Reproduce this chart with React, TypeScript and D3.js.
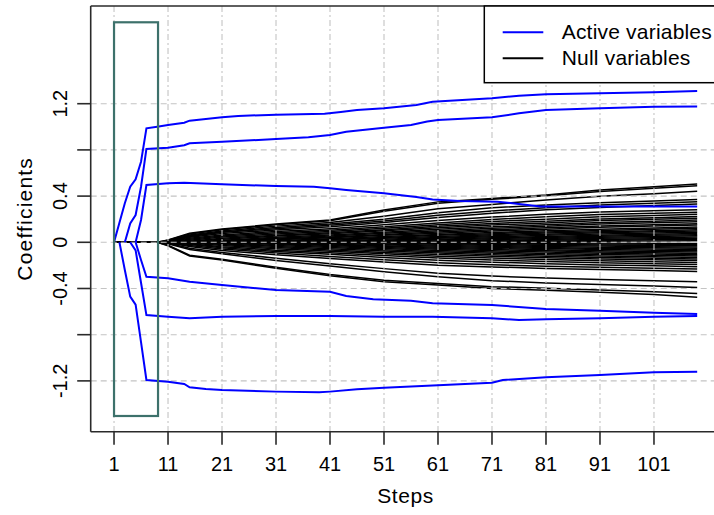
import React from "react";
import * as d3 from "d3";

const W = 714;
const H = 515;

// x ticks (steps) and y ticks (coefficients)
const xTicks = [1, 11, 21, 31, 41, 51, 61, 71, 81, 91, 101];
const yTicks = [-1.2, -0.8, -0.4, 0, 0.4, 0.8, 1.2];
const yTickLabels = ["-1.2", "", "-0.4", "0", "0.4", "", "1.2"];

// Active variables: [step, coefficient]
const activeA: [number, number][] = [[1,0],[2,0.17],[3,0.338],[4,0.481],[5,0.545],[6,0.698],[7,0.987],[9,1.001],[11,1.016],[14,1.035],[15,1.053],[18,1.068],[21,1.082],[24,1.094],[31,1.105],[40,1.113],[43,1.128],[46,1.145],[51,1.16],[57,1.189],[60,1.217],[71,1.247],[76,1.269],[81,1.281],[91,1.29],[101,1.299],[109,1.31]];
const activeB: [number, number][] = [[3,0],[4,0.164],[5,0.236],[6,0.481],[7,0.808],[11,0.819],[14,0.84],[15,0.857],[21,0.871],[31,0.894],[37,0.909],[41,0.929],[44,0.958],[51,0.992],[56,1.016],[59,1.045],[61,1.059],[71,1.082],[76,1.117],[81,1.145],[91,1.16],[101,1.174],[109,1.176]];
const activeC: [number, number][] = [[5,0],[6,0.193],[7,0.496],[11,0.511],[14,0.516],[21,0.502],[31,0.487],[38,0.481],[41,0.468],[44,0.453],[51,0.424],[57,0.392],[60,0.37],[65,0.358],[72,0.352],[80,0.31],[109,0.31]];
const activeD: [number, number][] = [[5,0],[6,-0.153],[7,-0.298],[11,-0.312],[15,-0.341],[21,-0.37],[31,-0.413],[41,-0.428],[44,-0.465],[49,-0.494],[56,-0.506],[60,-0.528],[71,-0.543],[81,-0.578],[91,-0.592],[101,-0.61],[109,-0.621]];
const activeE: [number, number][] = [[4,0],[5,-0.07],[6,-0.35],[7,-0.63],[11,-0.644],[15,-0.658],[21,-0.644],[31,-0.638],[41,-0.638],[51,-0.644],[60,-0.644],[71,-0.658],[76,-0.673],[81,-0.667],[91,-0.658],[101,-0.644],[109,-0.638]];
const activeF: [number, number][] = [[2,0],[3,-0.24],[4,-0.47],[5,-0.54],[6,-0.865],[7,-1.192],[11,-1.207],[14,-1.227],[15,-1.255],[18,-1.27],[21,-1.279],[31,-1.293],[39,-1.299],[41,-1.293],[46,-1.273],[51,-1.259],[58,-1.245],[71,-1.216],[73,-1.192],[81,-1.169],[91,-1.149],[101,-1.126],[109,-1.12]];
const activeSeries = [activeA, activeB, activeC, activeD, activeE, activeF];

// Null variables: coefficient at each of these steps
const nullSteps = [1, 9, 11, 15, 21, 31, 41, 51, 61, 71, 81, 91, 101, 109];
const nullPositive: number[][] = [
  [0, 0, 0.02, 0.078, 0.115, 0.158, 0.193, 0.28, 0.35, 0.38, 0.41, 0.453, 0.481, 0.505],
  [0, 0, 0.017, 0.072, 0.108, 0.152, 0.186, 0.268, 0.338, 0.372, 0.402, 0.44, 0.468, 0.49],
  [0, 0, 0.012, 0.063, 0.098, 0.14, 0.172, 0.226, 0.29, 0.328, 0.366, 0.398, 0.421, 0.442],
  [0, 0, 0.01, 0.056, 0.09, 0.128, 0.158, 0.2, 0.255, 0.3, 0.322, 0.342, 0.357, 0.371],
  [0, 0, 0.008, 0.05, 0.086, 0.118, 0.147, 0.185, 0.234, 0.272, 0.3, 0.322, 0.338, 0.352],
  [0, 0, 0.006, 0.044, 0.076, 0.106, 0.134, 0.172, 0.214, 0.252, 0.281, 0.302, 0.318, 0.331],
  [0, 0, 0.004, 0.036, 0.064, 0.094, 0.118, 0.152, 0.188, 0.218, 0.242, 0.262, 0.273, 0.282],
  [0, 0, 0.002, 0.026, 0.055, 0.083, 0.104, 0.134, 0.168, 0.198, 0.221, 0.24, 0.252, 0.261],
  [0, 0, 0, 0.018, 0.045, 0.072, 0.093, 0.121, 0.152, 0.18, 0.2, 0.221, 0.233, 0.243],
  [0, 0, 0, 0.01, 0.034, 0.062, 0.082, 0.108, 0.138, 0.163, 0.182, 0.201, 0.213, 0.224],
  [0, 0, 0, 0.006, 0.026, 0.054, 0.074, 0.099, 0.126, 0.149, 0.168, 0.188, 0.2, 0.209],
  [0, 0, 0, 0, 0.018, 0.043, 0.063, 0.088, 0.112, 0.134, 0.152, 0.171, 0.182, 0.192],
  [0, 0, 0, 0, 0.012, 0.036, 0.055, 0.079, 0.101, 0.121, 0.139, 0.158, 0.169, 0.178],
  [0, 0, 0, 0, 0.006, 0.028, 0.046, 0.068, 0.09, 0.108, 0.126, 0.142, 0.152, 0.161],
  [0, 0, 0, 0, 0, 0.021, 0.04, 0.06, 0.079, 0.097, 0.114, 0.13, 0.141, 0.149],
  [0, 0, 0, 0, 0, 0.014, 0.031, 0.05, 0.068, 0.085, 0.1, 0.114, 0.124, 0.133],
  [0, 0, 0, 0, 0, 0.008, 0.024, 0.042, 0.06, 0.075, 0.09, 0.103, 0.112, 0.121],
  [0, 0, 0, 0, 0, 0, 0.017, 0.034, 0.05, 0.065, 0.08, 0.092, 0.101, 0.109],
  [0, 0, 0, 0, 0, 0, 0.01, 0.026, 0.042, 0.056, 0.07, 0.082, 0.091, 0.098],
  [0, 0, 0, 0, 0, 0, 0.004, 0.018, 0.034, 0.047, 0.06, 0.072, 0.08, 0.088],
  [0, 0, 0, 0, 0, 0, 0, 0.012, 0.026, 0.039, 0.051, 0.062, 0.07, 0.077],
  [0, 0, 0, 0, 0, 0, 0, 0.006, 0.019, 0.031, 0.042, 0.052, 0.06, 0.066],
  [0, 0, 0, 0, 0, 0, 0, 0, 0.012, 0.023, 0.033, 0.043, 0.05, 0.056],
  [0, 0, 0, 0, 0, 0, 0, 0, 0.006, 0.016, 0.025, 0.034, 0.04, 0.045],
  [0, 0, 0, 0, 0, 0, 0, 0, 0, 0.009, 0.017, 0.025, 0.031, 0.035],
  [0, 0, 0, 0, 0, 0, 0, 0, 0, 0.004, 0.01, 0.016, 0.021, 0.024],
  [0, 0, 0, 0, 0, 0, 0, 0, 0, 0, 0.004, 0.008, 0.012, 0.014],
];
const nullNegative: number[][] = [
  [0, 0, -0.03, -0.119, -0.153, -0.225, -0.29, -0.341, -0.37, -0.4, -0.415, -0.432, -0.452, -0.476],
  [0, 0, -0.026, -0.112, -0.146, -0.216, -0.279, -0.328, -0.357, -0.384, -0.398, -0.412, -0.428, -0.443],
  [0, 0, -0.012, -0.062, -0.1, -0.158, -0.206, -0.255, -0.298, -0.332, -0.352, -0.365, -0.378, -0.392],
  [0, 0, -0.009, -0.052, -0.088, -0.138, -0.186, -0.228, -0.268, -0.292, -0.31, -0.322, -0.332, -0.342],
  [0, 0, -0.005, -0.036, -0.07, -0.108, -0.14, -0.17, -0.198, -0.213, -0.226, -0.236, -0.245, -0.252],
  [0, 0, -0.003, -0.028, -0.058, -0.092, -0.122, -0.152, -0.178, -0.194, -0.207, -0.217, -0.225, -0.232],
  [0, 0, 0, -0.02, -0.048, -0.08, -0.104, -0.132, -0.155, -0.172, -0.185, -0.196, -0.204, -0.211],
  [0, 0, 0, -0.012, -0.038, -0.068, -0.09, -0.115, -0.136, -0.153, -0.166, -0.177, -0.185, -0.192],
  [0, 0, 0, -0.006, -0.028, -0.056, -0.077, -0.1, -0.12, -0.136, -0.149, -0.16, -0.168, -0.174],
  [0, 0, 0, 0, -0.02, -0.046, -0.066, -0.088, -0.106, -0.121, -0.134, -0.145, -0.152, -0.158],
  [0, 0, 0, 0, -0.012, -0.036, -0.055, -0.075, -0.093, -0.108, -0.12, -0.131, -0.138, -0.144],
  [0, 0, 0, 0, -0.006, -0.027, -0.045, -0.064, -0.081, -0.095, -0.107, -0.118, -0.125, -0.131],
  [0, 0, 0, 0, 0, -0.019, -0.036, -0.054, -0.07, -0.084, -0.096, -0.106, -0.113, -0.119],
  [0, 0, 0, 0, 0, -0.012, -0.028, -0.045, -0.06, -0.073, -0.085, -0.095, -0.102, -0.107],
  [0, 0, 0, 0, 0, -0.006, -0.021, -0.037, -0.051, -0.063, -0.074, -0.084, -0.091, -0.096],
  [0, 0, 0, 0, 0, 0, -0.014, -0.029, -0.042, -0.054, -0.064, -0.073, -0.08, -0.085],
  [0, 0, 0, 0, 0, 0, -0.008, -0.021, -0.034, -0.045, -0.054, -0.063, -0.069, -0.074],
  [0, 0, 0, 0, 0, 0, 0, -0.014, -0.026, -0.036, -0.045, -0.053, -0.059, -0.063],
  [0, 0, 0, 0, 0, 0, 0, -0.007, -0.018, -0.028, -0.036, -0.043, -0.048, -0.052],
  [0, 0, 0, 0, 0, 0, 0, 0, -0.011, -0.02, -0.027, -0.033, -0.038, -0.041],
  [0, 0, 0, 0, 0, 0, 0, 0, -0.005, -0.012, -0.018, -0.023, -0.027, -0.03],
  [0, 0, 0, 0, 0, 0, 0, 0, 0, -0.006, -0.01, -0.014, -0.017, -0.019],
  [0, 0, 0, 0, 0, 0, 0, 0, 0, 0, -0.004, -0.007, -0.009, -0.01],
];

// Highlight box (steps and coefficient range)
const boxSteps = [1, 9.15];
const boxCoefs = [-1.504, 1.905];

const legendItems = [
  { label: "Active variables", color: "#0000FF" },
  { label: "Null variables", color: "#000000" },
];

export default function App() {
  const x = d3.scaleLinear().domain([-3.32, 113.32]).range([90.7, 720.5]);
  const y = d3.scaleLinear().domain([-1.64, 2.046]).range([431.7, 6]);
  const [x0, x1] = x.range();
  const [yb, yt] = y.range();

  const line = d3
    .line<[number, number]>()
    .x((d) => x(d[0]))
    .y((d) => y(d[1]));

  const nullRows = [...nullPositive, ...nullNegative];
  const nullPaths = nullRows.map((row) =>
    line(row.map((v, i) => [nullSteps[i], v] as [number, number]))
  );

  const font = "'Liberation Sans', Arial, Helvetica, sans-serif";

  const legX0 = 484.3;
  const legY0 = yt;
  const legY1 = 82.7;

  return (
    <svg
      width={W}
      height={H}
      style={{ position: "absolute", left: 0, top: 0, background: "#fff" }}
      fontFamily={font}
    >
      <rect x={0} y={0} width={W} height={H} fill="#fff" />
      {/* null lines */}
      <g fill="none" stroke="#000" strokeWidth={1.5}>
        {nullPaths.map((p, i) => (
          <path key={i} d={p || ""} />
        ))}
      </g>
      {/* grid */}
      <g stroke="#c4c4c4" strokeWidth={1.1}>
        {yTicks.map((t) => (
          <line key={"h" + t} x1={x0} x2={x1} y1={y(t)} y2={y(t)} strokeDasharray="6,4" />
        ))}
        {xTicks.map((t) => (
          <line key={"v" + t} x1={x(t)} x2={x(t)} y1={yt} y2={yb} strokeDasharray="6,3,2,3" />
        ))}
      </g>
      {/* active lines */}
      <g fill="none" stroke="#0000FF" strokeWidth={2}>
        {activeSeries.map((s, i) => (
          <path key={i} d={line(s) || ""} />
        ))}
      </g>
      {/* highlight box */}
      <rect
        x={x(boxSteps[0])}
        y={y(boxCoefs[1])}
        width={x(boxSteps[1]) - x(boxSteps[0])}
        height={y(boxCoefs[0]) - y(boxCoefs[1])}
        fill="none"
        stroke="#3d716b"
        strokeWidth={2.2}
      />
      {/* frame */}
      <g stroke="#2a2a2a" strokeWidth={1.6} fill="none">
        <line x1={x0} x2={x1} y1={yt} y2={yt} />
        <line x1={x0} x2={x1} y1={yb} y2={yb} />
        <line x1={x0} x2={x0} y1={yt} y2={yb} />
      </g>
      {/* x axis ticks */}
      <g>
        {xTicks.map((t) => (
          <g key={t}>
            <line x1={x(t)} x2={x(t)} y1={yb} y2={yb + 13} stroke="#2a2a2a" strokeWidth={1.6} />
            <text x={x(t)} y={470.7} fontSize={20} textAnchor="middle" fill="#000">
              {t}
            </text>
          </g>
        ))}
        <text x={(x0 + x1) / 2} y={503.3} fontSize={21} textAnchor="middle" letterSpacing={0.6}>
          Steps
        </text>
      </g>
      {/* y axis ticks */}
      <g>
        {yTicks.map((t, i) => (
          <g key={t}>
            <line x1={x0 - 13.5} x2={x0} y1={y(t)} y2={y(t)} stroke="#2a2a2a" strokeWidth={1.6} />
            {yTickLabels[i] && (
              <text
                transform={`translate(66.7,${y(t)}) rotate(-90)`}
                fontSize={20}
                textAnchor="middle"
              >
                {yTickLabels[i]}
              </text>
            )}
          </g>
        ))}
        <text
          transform={`translate(31.7,${(yt + yb) / 2}) rotate(-90)`}
          fontSize={21}
          textAnchor="middle"
          letterSpacing={1.2}
        >
          Coefficients
        </text>
      </g>
      {/* legend */}
      <g>
        <rect
          x={legX0}
          y={legY0}
          width={x1 - legX0}
          height={legY1 - legY0}
          fill="#fff"
          stroke="#000"
          strokeWidth={1.5}
        />
        {legendItems.map((it, i) => (
          <g key={it.label}>
            <line
              x1={502.7}
              x2={543.3}
              y1={32.3 + i * 26}
              y2={32.3 + i * 26}
              stroke={it.color}
              strokeWidth={2}
            />
            <text x={561.7} y={39 + i * 25.5} fontSize={21} letterSpacing={0.2}>
              {it.label}
            </text>
          </g>
        ))}
      </g>
    </svg>
  );
}
